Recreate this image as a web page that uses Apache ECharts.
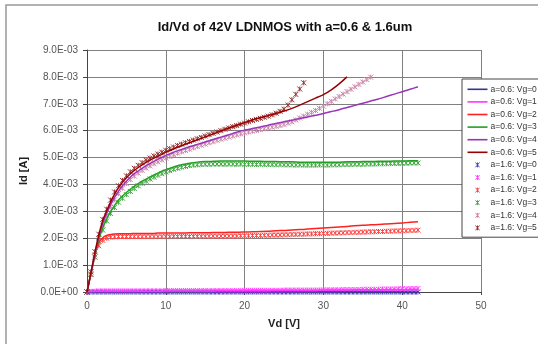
<!DOCTYPE html>
<html>
<head>
<meta charset="utf-8">
<script src="https://cdn.jsdelivr.net/npm/echarts@6/dist/echarts.min.js"></script>
<style>
  html, body { margin: 0; padding: 0; background: #fff; }
  #chart { width: 538px; height: 344px; }
</style>
</head>
<body>
<div id="chart"></div>
<script>
// Vd [V] for the a=0.6 lines
var vdLine = [0, 0.5, 1, 1.5, 2, 2.5, 3, 3.5, 4, 4.5, 5, 5.5, 6, 6.5, 7, 7.5, 8, 8.5, 9, 9.5, 10,
  11, 12, 13, 14, 15, 16, 17, 18, 19, 20, 21, 22, 23, 24, 25, 26, 27, 28, 29, 30,
  31, 32, 33, 34, 35, 36, 37, 38, 39, 40, 41, 42]

// Vd [V] for the a=1.6 markers
var vdMark = [0, 0.5, 1, 1.5, 2, 2.5, 3, 3.5, 4, 4.5, 5, 5.5, 6, 6.5, 7, 7.5, 8, 8.5, 9, 9.5,
  10, 10.5, 11, 11.5, 12, 12.5, 13, 13.5, 14, 14.5, 15, 15.5, 16, 16.5, 17, 17.5, 18, 18.5, 19, 19.5,
  20, 20.5, 21, 21.5, 22, 22.5, 23, 23.5, 24, 24.5, 25, 25.5, 26, 26.5, 27, 27.5, 28, 28.5, 29, 29.5,
  30, 30.5, 31, 31.5, 32, 32.5, 33, 33.5, 34, 34.5, 35, 35.5, 36, 36.5, 37, 37.5, 38, 38.5, 39, 39.5,
  40, 40.5, 41, 41.5, 42]

// Id in mA, a=0.6 (lines)
var a06vg0 = [0, 0, 0, 0, 0, 0, 0, 0, 0, 0, 0, 0, 0, 0, 0, 0, 0, 0, 0, 0, 0,
  0, 0, 0, 0, 0, 0, 0, 0, 0, 0, 0, 0, 0, 0, 0, 0, 0, 0, 0, 0,
  0, 0, 0, 0, 0, 0, 0, 0, 0, 0, 0, 0]
var a06vg1 = [0, 0.02, 0.03, 0.03, 0.03, 0.03, 0.03, 0.03, 0.03, 0.03, 0.03, 0.03, 0.03, 0.03, 0.03, 0.03, 0.03, 0.03, 0.03, 0.03, 0.04,
  0.04, 0.04, 0.04, 0.04, 0.04, 0.04, 0.05, 0.05, 0.05, 0.05, 0.05, 0.05, 0.05, 0.06, 0.06, 0.06, 0.06, 0.06, 0.06, 0.07,
  0.07, 0.07, 0.07, 0.08, 0.08, 0.08, 0.08, 0.09, 0.09, 0.09, 0.1, 0.1]
var a06vg2 = [0, 0.68, 1.35, 1.82, 2.02, 2.1, 2.14, 2.16, 2.17, 2.17, 2.17, 2.17, 2.18, 2.18, 2.18, 2.18, 2.18, 2.18, 2.19, 2.19, 2.19,
  2.19, 2.19, 2.2, 2.2, 2.2, 2.21, 2.21, 2.22, 2.22, 2.23, 2.24, 2.25, 2.26, 2.28, 2.29, 2.31, 2.32, 2.34, 2.36, 2.38,
  2.4, 2.42, 2.44, 2.46, 2.48, 2.5, 2.51, 2.53, 2.55, 2.57, 2.59, 2.61]
var a06vg3 = [0, 0.68, 1.35, 1.95, 2.38, 2.72, 3.0, 3.22, 3.42, 3.57, 3.7, 3.82, 3.93, 4.03, 4.12, 4.2, 4.28, 4.35, 4.42, 4.49, 4.55,
  4.65, 4.73, 4.79, 4.83, 4.85, 4.86, 4.87, 4.87, 4.87, 4.87, 4.86, 4.86, 4.85, 4.85, 4.84, 4.84, 4.83, 4.83, 4.83, 4.83,
  4.83, 4.83, 4.84, 4.84, 4.85, 4.85, 4.86, 4.86, 4.87, 4.87, 4.88, 4.88]
var a06vg4 = [0, 0.7, 1.42, 2.05, 2.55, 2.92, 3.25, 3.52, 3.75, 3.95, 4.12, 4.27, 4.4, 4.5, 4.6, 4.7, 4.78, 4.86, 4.94, 5.01, 5.08,
  5.2, 5.3, 5.4, 5.49, 5.58, 5.67, 5.76, 5.85, 5.94, 6.02, 6.08, 6.14, 6.2, 6.27, 6.33, 6.39, 6.45, 6.51, 6.57, 6.64,
  6.71, 6.78, 6.86, 6.94, 7.02, 7.1, 7.18, 7.27, 7.36, 7.45, 7.54, 7.63]
var a06vg5 = [0, 0.72, 1.46, 2.12, 2.66, 3.02, 3.35, 3.64, 3.88, 4.08, 4.25, 4.4, 4.52, 4.63, 4.73, 4.82, 4.9, 4.98, 5.05, 5.12, 5.2,
  5.32, 5.44, 5.55, 5.66, 5.77, 5.88, 5.99, 6.1, 6.2, 6.3, 6.4, 6.48, 6.56, 6.64, 6.73, 6.83, 6.95, 7.08, 7.21, 7.34,
  7.52, 7.74, 8.0]

// Id in mA, a=1.6 (markers)
var a16vg0 = [0, 0, 0, 0, 0, 0, 0, 0, 0, 0, 0, 0, 0, 0, 0, 0, 0, 0, 0, 0,
  0, 0, 0, 0, 0, 0, 0, 0, 0, 0, 0, 0, 0, 0, 0, 0, 0, 0, 0, 0,
  0, 0, 0, 0, 0, 0, 0, 0, 0, 0, 0, 0, 0, 0, 0, 0, 0, 0, 0, 0,
  0, 0, 0, 0, 0, 0, 0, 0, 0, 0, 0, 0, 0, 0, 0, 0, 0, 0, 0, 0,
  0, 0, 0, 0, 0]
var a16vg1 = [0, 0.02, 0.03, 0.04, 0.04, 0.04, 0.04, 0.04, 0.04, 0.04, 0.04, 0.04, 0.04, 0.04, 0.04, 0.04, 0.04, 0.04, 0.04, 0.04,
  0.05, 0.05, 0.05, 0.05, 0.05, 0.05, 0.05, 0.05, 0.05, 0.05, 0.05, 0.05, 0.05, 0.05, 0.05, 0.05, 0.05, 0.05, 0.05, 0.05,
  0.06, 0.06, 0.06, 0.06, 0.06, 0.06, 0.06, 0.06, 0.06, 0.06, 0.07, 0.07, 0.07, 0.07, 0.07, 0.07, 0.07, 0.07, 0.07, 0.07,
  0.08, 0.08, 0.08, 0.08, 0.08, 0.09, 0.09, 0.09, 0.09, 0.09, 0.1, 0.1, 0.1, 0.1, 0.1, 0.11, 0.11, 0.11, 0.11, 0.12,
  0.12, 0.12, 0.13, 0.13, 0.13]
var a16vg2 = [0, 0.65, 1.3, 1.72, 1.92, 2.0, 2.04, 2.05, 2.06, 2.06, 2.06, 2.06, 2.06, 2.06, 2.06, 2.06, 2.06, 2.06, 2.06, 2.06,
  2.06, 2.06, 2.07, 2.06, 2.07, 2.07, 2.06, 2.07, 2.07, 2.07, 2.07, 2.07, 2.08, 2.07, 2.08, 2.08, 2.08, 2.08, 2.08, 2.09,
  2.09, 2.09, 2.1, 2.1, 2.1, 2.11, 2.11, 2.12, 2.12, 2.12, 2.13, 2.13, 2.14, 2.14, 2.15, 2.15, 2.16, 2.16, 2.17, 2.17,
  2.18, 2.18, 2.19, 2.19, 2.2, 2.2, 2.21, 2.21, 2.22, 2.22, 2.23, 2.23, 2.24, 2.24, 2.25, 2.25, 2.26, 2.26, 2.27, 2.27,
  2.28, 2.28, 2.29, 2.29, 2.3]
var a16vg3 = [0, 0.66, 1.3, 1.88, 2.3, 2.64, 2.92, 3.14, 3.34, 3.49, 3.62, 3.74, 3.85, 3.95, 4.04, 4.12, 4.2, 4.27, 4.34, 4.4,
  4.46, 4.51, 4.56, 4.6, 4.64, 4.67, 4.7, 4.72, 4.73, 4.74, 4.75, 4.75, 4.76, 4.76, 4.76, 4.75, 4.76, 4.76, 4.75, 4.76,
  4.75, 4.75, 4.75, 4.74, 4.75, 4.74, 4.74, 4.74, 4.73, 4.74, 4.73, 4.73, 4.73, 4.72, 4.73, 4.72, 4.72, 4.72, 4.72, 4.73,
  4.72, 4.72, 4.73, 4.73, 4.73, 4.74, 4.74, 4.74, 4.75, 4.75, 4.75, 4.76, 4.76, 4.76, 4.77, 4.77, 4.77, 4.78, 4.78, 4.78,
  4.79, 4.79, 4.8, 4.8, 4.8]
var a16vg4 = [0, 0.68, 1.38, 2.0, 2.48, 2.85, 3.17, 3.43, 3.66, 3.86, 4.03, 4.18, 4.31, 4.42, 4.52, 4.61, 4.69, 4.77, 4.84, 4.91,
  4.98, 5.04, 5.1, 5.16, 5.21, 5.26, 5.31, 5.36, 5.41, 5.46, 5.5, 5.55, 5.59, 5.64, 5.68, 5.72, 5.76, 5.8, 5.84, 5.88,
  5.92, 5.95, 5.98, 6.01, 6.04, 6.07, 6.1, 6.13, 6.16, 6.19, 6.23, 6.28, 6.33, 6.4, 6.47, 6.54, 6.61, 6.68, 6.75, 6.83,
  6.91, 7.0, 7.09, 7.18, 7.27, 7.36, 7.45, 7.54, 7.63, 7.72, 7.81, 7.9, 7.99]
var a16vg5 = [0, 0.75, 1.5, 2.15, 2.7, 3.08, 3.42, 3.72, 3.95, 4.15, 4.32, 4.47, 4.6, 4.71, 4.81, 4.9, 4.98, 5.06, 5.13, 5.2,
  5.27, 5.33, 5.39, 5.45, 5.5, 5.55, 5.6, 5.65, 5.7, 5.75, 5.8, 5.85, 5.9, 5.95, 6.0, 6.05, 6.1, 6.15, 6.19, 6.24,
  6.28, 6.33, 6.38, 6.42, 6.46, 6.5, 6.54, 6.59, 6.65, 6.72, 6.8, 6.95, 7.15, 7.35, 7.55, 7.78]

var lineNames = ['a=0.6: Vg=0', 'a=0.6: Vg=1', 'a=0.6: Vg=2', 'a=0.6: Vg=3', 'a=0.6: Vg=4', 'a=0.6: Vg=5']
var markNames = ['a=1.6: Vg=0', 'a=1.6: Vg=1', 'a=1.6: Vg=2', 'a=1.6: Vg=3', 'a=1.6: Vg=4', 'a=1.6: Vg=5']
var lineData = [a06vg0, a06vg1, a06vg2, a06vg3, a06vg4, a06vg5]
var markData = [a16vg0, a16vg1, a16vg2, a16vg3, a16vg4, a16vg5]
var lineColors = ['#333399', '#ff33ff', '#ff2020', '#22a022', '#9933bb', '#990000']
var markColors = ['#4444cc', '#ff44ff', '#ff4444', '#44aa44', '#cc88aa', '#993333']

var font = 'Liberation Sans, Arial, sans-serif'
var starPath = 'path://M0,0L10,10M10,0L0,10M5,0L5,10'
// legend icons, drawn in a 20x8 box so they keep their size
var lineIcon = 'path://M0,3.2L20,3.2L20,4.8L0,4.8Z'
var starIcon = 'path://M0,0M20,8M8,1.6L12,6.4M12,1.6L8,6.4M10,1.6L10,6.4'

function pairs(xs, ys) {
  return ys.map(function (v, i) { return [xs[i], v * 1e-3] })
}

function sci(v) {
  var parts = v.toExponential(1).split('e')
  var e = parseInt(parts[1], 10)
  var exp = String(Math.abs(e))
  if (exp.length < 2) exp = '0' + exp
  return parts[0] + 'E' + (e < 0 ? '-' : '+') + exp
}

var series = []
var legendData = []
lineData.forEach(function (d, i) {
  series.push({
    name: lineNames[i],
    type: 'line',
    data: pairs(vdLine, d),
    showSymbol: false,
    symbol: 'none',
    smooth: 0.2,
    lineStyle: { color: lineColors[i], width: 1.5 },
    itemStyle: { color: lineColors[i] },
    z: 3,
    animation: false
  })
  legendData.push({ name: lineNames[i], icon: lineIcon, itemStyle: { color: lineColors[i], borderWidth: 0 } })
})
markData.forEach(function (d, i) {
  series.push({
    name: markNames[i],
    type: 'scatter',
    data: pairs(vdMark, d),
    symbol: starPath,
    symbolSize: 5,
    itemStyle: { color: 'rgba(0,0,0,0)', borderColor: markColors[i], borderWidth: 1, opacity: 1 },
    z: 2,
    animation: false
  })
  legendData.push({ name: markNames[i], icon: starIcon, itemStyle: { color: 'rgba(0,0,0,0)', borderColor: markColors[i], borderWidth: 1 } })
})

var chart = echarts.init(document.getElementById('chart'))
chart.setOption({
  backgroundColor: '#fff',
  animation: false,
  title: {
    text: 'Id/Vd of 42V LDNMOS with a=0.6 & 1.6um',
    left: 280,
    top: 16,
    textAlign: 'center',
    textStyle: { fontFamily: font, fontSize: 13, fontWeight: 'bold', color: '#111' }
  },
  graphic: [{
    type: 'rect',
    shape: { x: 6, y: 5, width: 600, height: 400 },
    style: { fill: 'none', stroke: '#999', lineWidth: 1.5 },
    silent: true,
    z: -1
  }],
  grid: { left: 87, right: 57, top: 50, bottom: 52 },
  legend: {
    orient: 'vertical',
    left: 462,
    top: 79,
    padding: [5, 3, 4, 5],
    itemWidth: 20,
    itemHeight: 8,
    itemGap: 2,
    backgroundColor: '#fff',
    borderColor: '#444',
    borderWidth: 1,
    borderRadius: 0,
    textStyle: { fontFamily: font, fontSize: 8.5, lineHeight: 10.6, color: '#333', padding: [0, 0, 0, -2] },
    data: legendData
  },
  xAxis: {
    type: 'value',
    min: 0,
    max: 50,
    interval: 10,
    name: 'Vd [V]',
    nameLocation: 'middle',
    nameGap: 26,
    nameTextStyle: { fontFamily: font, fontSize: 11, fontWeight: 'bold', color: '#222' },
    axisLine: { show: true, lineStyle: { color: '#444' } },
    axisTick: { show: true, inside: false, length: 3, lineStyle: { color: '#444' } },
    axisLabel: { fontFamily: font, fontSize: 10, color: '#555', margin: 9 },
    splitLine: { show: true, lineStyle: { color: '#808080', width: 1 } }
  },
  yAxis: {
    type: 'value',
    min: 0,
    max: 0.009,
    interval: 0.001,
    name: 'Id [A]',
    nameLocation: 'middle',
    nameRotate: 90,
    nameGap: 58,
    nameTextStyle: { fontFamily: font, fontSize: 11, fontWeight: 'bold', color: '#222' },
    axisLine: { show: true, lineStyle: { color: '#444' } },
    axisTick: { show: true, inside: false, length: 4, lineStyle: { color: '#444' } },
    axisLabel: { fontFamily: font, fontSize: 10, color: '#555', margin: 9, formatter: sci },
    splitLine: { show: true, lineStyle: { color: '#808080', width: 1 } }
  },
  series: series
})
</script>
</body>
</html>
